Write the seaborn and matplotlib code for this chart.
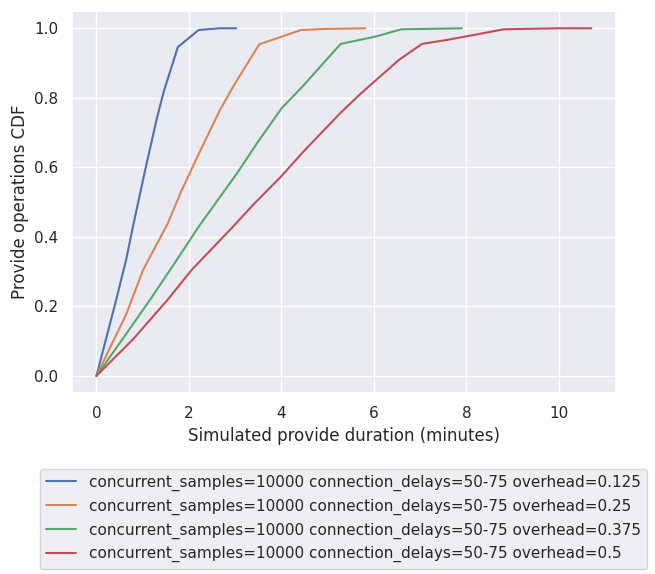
import numpy as np
import pandas as pd
import matplotlib
matplotlib.use("Agg")
import matplotlib.pyplot as plt
import seaborn as sns

sns.set_theme()

label_base = "concurrent_samples=10000 connection_delays=50-75 overhead="
overheads = ["0.125", "0.25", "0.375", "0.5"]

# duration (minutes) / cdf points
x_0125 = [0, 0.41, 0.64, 0.79, 1.05, 1.31, 1.46, 1.76, 2.21, 2.66, 3.02]
y_0125 = [0, 0.21, 0.333, 0.43, 0.59, 0.743, 0.82, 0.946, 0.995, 1.0, 1.0]

x_025 = [0, 0.64, 1.01, 1.54, 1.84, 2.21, 2.66, 2.96, 3.52, 4.01, 4.42, 4.91, 5.81]
y_025 = [0, 0.176, 0.305, 0.438, 0.533, 0.638, 0.762, 0.833, 0.954, 0.976, 0.995, 0.998, 1.0]

x_0375 = [0, 0.56, 1.16, 1.69, 2.21, 3.03, 3.48, 4.01, 4.46, 4.91, 5.28, 6.03, 6.59, 7.9]
y_0375 = [0, 0.105, 0.219, 0.324, 0.429, 0.581, 0.671, 0.771, 0.833, 0.9, 0.955, 0.976, 0.997, 1.0]

x_05 = [0, 0.79, 1.54, 2.06, 2.88, 3.41, 4.01, 4.46, 5.28, 5.73, 6.55, 7.04, 7.6, 8.05, 8.8, 10.0, 10.7]
y_05 = [0, 0.105, 0.219, 0.305, 0.419, 0.495, 0.576, 0.643, 0.757, 0.814, 0.91, 0.955, 0.967, 0.978, 0.997, 1.0, 1.0]

xs = [x_0125, x_025, x_0375, x_05]
ys = [y_0125, y_025, y_0375, y_05]

frames = []
for ov, x, y in zip(overheads, xs, ys):
    frames.append(pd.DataFrame({"duration": x, "cdf": y, "run": label_base + ov}))
df = pd.concat(frames, ignore_index=True)

fig = plt.figure(figsize=(6.55, 5.74), dpi=100)
ax = fig.add_axes([0.1095, 0.315, 0.831, 0.666])
sns.lineplot(data=df, x="duration", y="cdf", hue="run", sort=False,
             estimator=None, ax=ax, legend=True)
ax.set_xlabel("Simulated provide duration (minutes)")
ax.set_ylabel("Provide operations CDF")

handles, labels = ax.get_legend_handles_labels()
ax.get_legend().remove()
fig.legend(handles, labels, loc="upper center",
           bbox_to_anchor=(0.524, 1 - 461 / 574), fontsize=11)

fig.savefig("out.png", dpi=100)
